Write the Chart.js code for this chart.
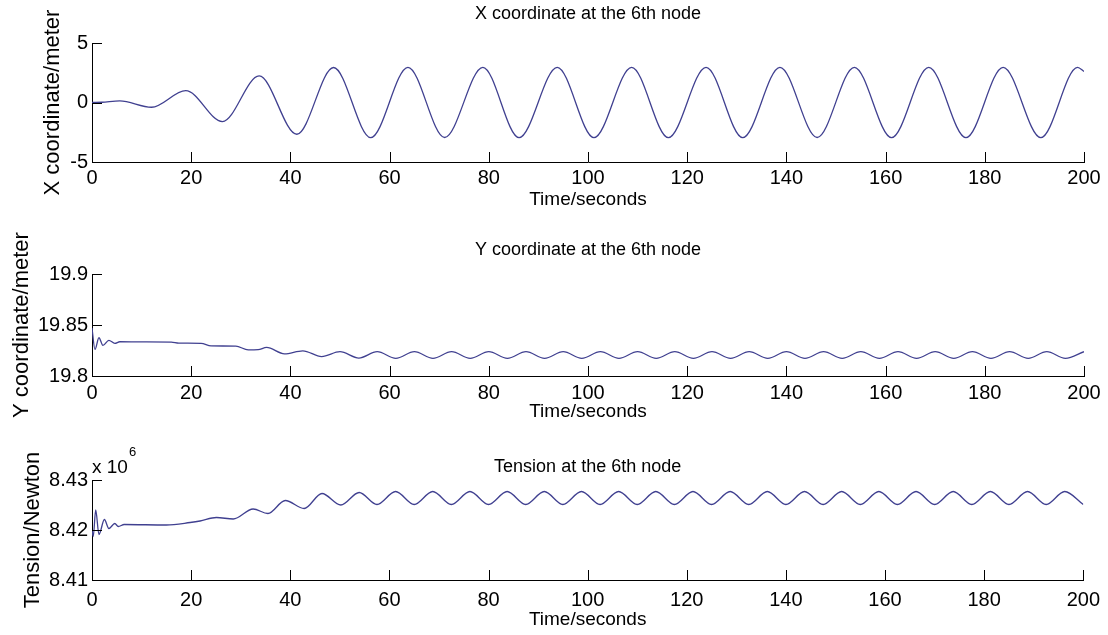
<!DOCTYPE html>
<html>
<head>
<meta charset="utf-8">
<title>6th node response</title>
<script src="https://cdn.jsdelivr.net/npm/chart.js@4/dist/chart.umd.min.js"></script>
<style>
  html, body { margin: 0; padding: 0; background: #fff; }
  #wrap { position: relative; width: 1108px; height: 635px; }
  canvas { position: absolute; left: 0; }
</style>
</head>
<body>
<div id="wrap">
  <canvas id="xChart" width="1108" height="215" style="top:0"></canvas>
  <canvas id="yChart" width="1108" height="210" style="top:215px"></canvas>
  <canvas id="tChart" width="1108" height="210" style="top:425px"></canvas>
</div>
<script>
// ---- data (time in seconds) ----
const timeTicks = [0, 20, 40, 60, 80, 100, 120, 140, 160, 180, 200];

// X coordinate of node 6, metres (turning points of the swing)
const timeX = [0, 2, 5.6, 12.0, 18.9, 26.3, 33.7, 41.3, 48.7, 56.2, 63.7, 71.1, 78.8, 86.1,
  93.8, 101.2, 108.8, 116.2, 123.8, 131.2, 138.7, 146.2, 153.7, 161.2, 168.7, 176.2,
  183.7, 191.3, 198.7, 200];
const xCoord = [0, 0.02, 0.13, -0.4, 1.0, -1.6, 2.23, -2.67, 2.94, -2.95, 2.96, -2.94, 2.96, -2.95,
  2.96, -2.95, 2.96, -2.95, 2.96, -2.95, 2.96, -2.94, 2.96, -2.95, 2.96, -2.95,
  2.96, -2.95, 2.96, 2.6];
const xTicks = [-5, 0, 5];
const xTickLabels = ['-5', '0', '5'];

// Y coordinate of node 6, metres
const timeY = [0, 0.6, 1.4, 2.2, 3.4, 4.6, 5.6, 10, 16, 17.5, 22, 24, 29, 31.5, 33.5, 35.2,
  38.8, 42.5, 46.3, 50.0, 53.8,
  57.5, 61.25, 65, 68.75, 72.5, 76.25, 80, 83.75, 87.5, 91.25, 95, 98.75, 102.5, 106.25,
  110, 113.75, 117.5, 121.25, 125, 128.75, 132.5, 136.25, 140, 143.75, 147.5, 151.25,
  155, 158.75, 162.5, 166.25, 170, 173.75, 177.5, 181.25, 185, 188.75, 192.5, 196.25, 200];
const yCoord = [19.847, 19.826, 19.8375, 19.830, 19.835, 19.832, 19.8336, 19.8334, 19.8332, 19.8322,
  19.832, 19.8295, 19.8293, 19.8256, 19.8258, 19.828, 19.8217, 19.8247, 19.819, 19.8238, 19.8176,
  19.8238, 19.8173, 19.8238, 19.8173, 19.8238, 19.8173, 19.8238, 19.8173, 19.8238, 19.8173,
  19.8238, 19.8173, 19.8238, 19.8173, 19.8238, 19.8173, 19.8238, 19.8173, 19.8238, 19.8173,
  19.8238, 19.8173, 19.8238, 19.8173, 19.8238, 19.8173, 19.8238, 19.8173, 19.8238, 19.8173,
  19.8238, 19.8173, 19.8238, 19.8173, 19.8238, 19.8173, 19.8238, 19.8173, 19.8238];
const yTicks = [19.8, 19.85, 19.9];
const yTickLabels = ['19.8', '19.85', '19.9'];

// Tension at node 6, in units of 10^6 N
const timeT = [0, 0.25, 0.75, 1.4, 2.5, 3.4, 4.6, 5.3, 6.5, 15, 19.8, 21.8, 25.1, 28.5, 32.5,
  35.5, 39.0, 42.8, 46.4, 50.2, 53.9,
  57.5, 61.25, 65, 68.75, 72.5, 76.25, 80, 83.75, 87.5, 91.25, 95, 98.75, 102.5, 106.25,
  110, 113.75, 117.5, 121.25, 125, 128.75, 132.5, 136.25, 140, 143.75, 147.5, 151.25,
  155, 158.75, 162.5, 166.25, 170, 173.75, 177.5, 181.25, 185, 188.75, 192.5, 196.25, 200];
const tensionMN = [8.4200, 8.4187, 8.4240, 8.4191, 8.4221, 8.4203, 8.4213, 8.4207, 8.4211, 8.4210,
  8.4215, 8.4218, 8.4225, 8.4222, 8.4242, 8.4233, 8.4259, 8.4243, 8.4273, 8.4250, 8.4275,
  8.4251, 8.4277, 8.4251, 8.4277, 8.4251, 8.4277, 8.4251, 8.4277, 8.4251, 8.4277,
  8.4251, 8.4277, 8.4251, 8.4277, 8.4251, 8.4277, 8.4251, 8.4277, 8.4251, 8.4277,
  8.4251, 8.4277, 8.4251, 8.4277, 8.4251, 8.4277, 8.4251, 8.4277, 8.4251, 8.4277,
  8.4251, 8.4277, 8.4251, 8.4277, 8.4251, 8.4277, 8.4251, 8.4277, 8.4251];
const tTicks = [8.41, 8.42, 8.43];
const tTickLabels = ['8.41', '8.42', '8.43'];

// ---- styling ----
const FONT = '"Liberation Sans", Arial, Helvetica, sans-serif';
const TICK_SIZE = 20;
const TITLE_SIZE = 18;
const XLABEL_SIZE = 19;
const YLABEL_SIZE = 22;
const LINE_COLOR = '#404090';
const AXIS_LEFT = 92, AXIS_RIGHT = 1084, CANVAS_W = 1108;

// MATLAB-style tick marks pointing into the axes, plus the optional "x 10^n" note
const innerTicks = {
  id: 'innerTicks',
  afterDraw(chart, args, opts) {
    const { ctx, chartArea: a, scales: { x, y } } = chart;
    ctx.save();
    ctx.strokeStyle = '#000';
    ctx.lineWidth = 1;
    ctx.beginPath();
    x.ticks.forEach(t => {
      const px = Math.round(x.getPixelForValue(t.value)) + 0.5;
      ctx.moveTo(px, a.bottom);
      ctx.lineTo(px, a.bottom - opts.len);
    });
    y.ticks.forEach(t => {
      const py = Math.round(y.getPixelForValue(t.value)) + 0.5;
      ctx.moveTo(a.left, py);
      ctx.lineTo(a.left + opts.len, py);
    });
    ctx.stroke();
    if (opts.exponent) {
      ctx.fillStyle = '#000';
      ctx.textBaseline = 'alphabetic';
      ctx.textAlign = 'left';
      ctx.font = '19px ' + FONT;
      const base = 'x 10';
      ctx.fillText(base, a.left, a.top - 7);
      const w = ctx.measureText(base).width;
      ctx.font = '13px ' + FONT;
      ctx.fillText(opts.exponent, a.left + w + 1, a.top - 24);
    }
    ctx.restore();
  }
};

function makePanel(id, p) {
  const lhTitle = TITLE_SIZE * 1.2, lhTick = TICK_SIZE * 1.2;
  const lhX = XLABEL_SIZE * 1.2, lhY = YLABEL_SIZE * 1.2;
  const points = p.times.map((t, i) => ({ x: t, y: p.values[i] }));

  return new Chart(document.getElementById(id), {
    type: 'line',
    data: {
      datasets: [{
        data: points,
        borderColor: LINE_COLOR,
        borderWidth: 1.3,
        pointRadius: 0,
        cubicInterpolationMode: 'monotone',
        fill: false
      }]
    },
    options: {
      responsive: false,
      animation: false,
      events: [],
      layout: { padding: { left: 0, right: CANVAS_W - AXIS_RIGHT, top: 0, bottom: 0 } },
      plugins: {
        legend: { display: false },
        tooltip: { enabled: false },
        title: {
          display: true,
          text: p.title,
          color: '#000',
          fullSize: false,
          font: { family: FONT, size: TITLE_SIZE, weight: 'normal' },
          padding: { top: p.titleY - lhTitle / 2, bottom: p.top - p.titleY - lhTitle / 2 }
        },
        innerTicks: { len: 10, exponent: p.exponent || null }
      },
      scales: {
        x: {
          type: 'linear',
          min: 0,
          max: 200,
          grid: { display: false, drawTicks: false },
          border: { display: true, color: '#000', width: 1 },
          afterBuildTicks: s => { s.ticks = timeTicks.map(v => ({ value: v })); },
          afterFit: s => { s.height = p.height - p.bottom; },
          ticks: {
            autoSkip: false,
            maxRotation: 0,
            color: '#000',
            padding: p.tickY - p.bottom - lhTick / 2,
            font: { family: FONT, size: TICK_SIZE },
            callback: v => String(v)
          },
          title: {
            display: true,
            text: 'Time/seconds',
            color: '#000',
            font: { family: FONT, size: XLABEL_SIZE },
            padding: { top: 0, bottom: p.height - p.xLabelY - lhX / 2 }
          }
        },
        y: {
          min: p.yTicks[0],
          max: p.yTicks[p.yTicks.length - 1],
          grid: { display: false, drawTicks: false },
          border: { display: true, color: '#000', width: 1 },
          afterBuildTicks: s => { s.ticks = p.yTicks.map(v => ({ value: v })); },
          afterFit: s => { s.width = AXIS_LEFT; },
          ticks: {
            color: '#000',
            padding: 4,
            font: { family: FONT, size: TICK_SIZE },
            callback: (v, i) => p.yTickLabels[i]
          },
          title: {
            display: true,
            text: p.yLabel,
            color: '#000',
            font: { family: FONT, size: YLABEL_SIZE },
            padding: { top: p.yLabelX - lhY / 2, bottom: 0 }
          }
        }
      }
    },
    plugins: [innerTicks]
  });
}

makePanel('xChart', {
  times: timeX, values: xCoord, yTicks: xTicks, yTickLabels: xTickLabels,
  title: 'X coordinate at the 6th node', yLabel: 'X coordinate/meter',
  height: 215, top: 43, bottom: 162, titleY: 14, tickY: 178.5, xLabelY: 200, yLabelX: 53
});

makePanel('yChart', {
  times: timeY, values: yCoord, yTicks: yTicks, yTickLabels: yTickLabels,
  title: 'Y coordinate at the 6th node', yLabel: 'Y coordinate/meter',
  height: 210, top: 59, bottom: 161, titleY: 35, tickY: 178, xLabelY: 197, yLabelX: 22
});

makePanel('tChart', {
  times: timeT, values: tensionMN, yTicks: tTicks, yTickLabels: tTickLabels,
  title: 'Tension at the 6th node', yLabel: 'Tension/Newton', exponent: '6',
  height: 210, top: 55, bottom: 155, titleY: 42, tickY: 175, xLabelY: 195, yLabelX: 33
});
</script>
</body>
</html>
